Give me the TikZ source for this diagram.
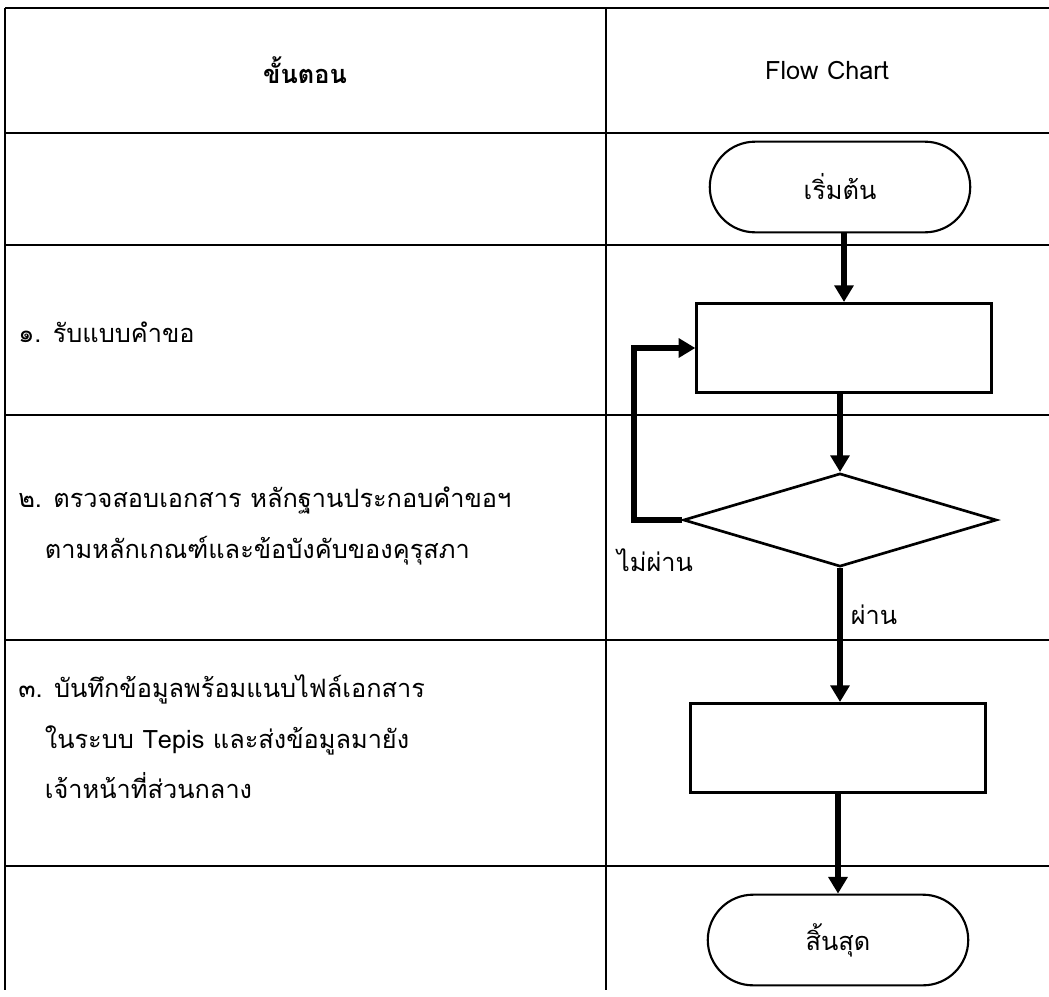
\documentclass[tikz,border=0pt]{standalone}
\usepackage{fontspec}
\setmainfont[Script=Thai]{Loma}
\usetikzlibrary{shapes.geometric,shapes.misc,arrows.meta,positioning}

\begin{document}
\begin{tikzpicture}[x=0.75pt, y=-0.75pt,
    grid/.style={line width=2pt},
    every node/.style={font=\fontsize{19}{38}\selectfont},
    term/.style={rounded rectangle, draw, line width=1.6pt,
      minimum width=202pt, minimum height=68pt},
    proc/.style={rectangle, draw, line width=2pt, minimum width=221pt,
      minimum height=67pt},
    decision/.style={diamond, draw, line width=2pt, minimum width=235pt,
      minimum height=70pt, inner sep=0pt},
    flow/.style={-{Triangle[width=14pt,length=12.5pt]}, line width=4.3pt},
    steptext/.style={anchor=west, align=left, inner sep=0pt}]
    \useasboundingbox (0,0) rectangle (1049,996);
    % table
    \draw[grid] (5,8) -- (1049,8);
    \foreach \y in {133,245,415,640,866} \draw[grid] (5,\y) -- (1049,\y);
    \draw[grid] (5,8) -- (5,990); \draw[grid] (606,8) -- (606,990);
    % header
    \node[font=\fontsize{19}{38}\selectfont\bfseries] (hstep) at (305,70) {ขั้นตอน};
    \node (hflow) at (827,70) {Flow Chart};
    % steps
    \node[steptext] (s1) at (18,332) {๑. รับแบบคำขอ};
    \node[steptext] (s2) at (18,526) {๒. ตรวจสอบเอกสาร หลักฐานประกอบคำขอฯ\\
      \hspace*{20pt}ตามหลักเกณฑ์และข้อบังคับของคุรุสภา};
    \node[steptext] (s3) at (18,737) {๓. บันทึกข้อมูลพร้อมแนบไฟล์เอกสาร\\
      \hspace*{20pt}ในระบบ Tepis และส่งข้อมูลมายัง\\
      \hspace*{20pt}เจ้าหน้าที่ส่วนกลาง};
    % flow chart
    \node[term] (start) at (840,187) {เริ่มต้น};
    \node[proc] (box1) at (844,348) {};
    \node[decision] (dec) at (840,520) {};
    \node[proc] (box2) at (838,748) {};
    \node[term] (stop) at (838,940) {สิ้นสุด};
    \node (nopass) at (655,560) {ไม่ผ่าน};
    \node (pass) at (874,615) {ผ่าน};
    \begin{scope}[flow]
      \draw (box1.north |- start.south) -- (box1.north);
      \draw (dec.north |- box1.south) -- (dec.north);
      \draw (dec.south) -- (dec.south |- box2.north);
      \draw (box2.south) -- (box2.south |- stop.north);
      \draw (dec.west) -- ++(-48,0) |- (box1.west);
    \end{scope}
\end{tikzpicture}
\end{document}
